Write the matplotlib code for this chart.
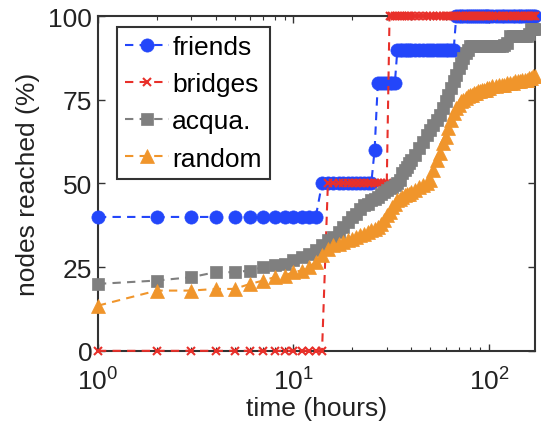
import matplotlib
matplotlib.use("Agg")
import matplotlib.pyplot as plt
from matplotlib.ticker import FixedLocator, NullFormatter, LogLocator

plt.rcParams['font.family'] = ['Liberation Sans', 'DejaVu Sans']

# time axis (hours)
hours = (list(range(1, 41)) + list(range(42, 101, 2)) + list(range(104, 173, 4)))

friends = ([40] * 13 + [50] * 12 + [60] + [80] * 7 + [90] * 7 +
           [90] * 13 + [100] * 17 + [100] * 18)
bridges = [0] * 14 + [50] * 16 + [100] * 10 + [100] * 48

acqua = [20, 21, 22, 23.5, 23.5, 24, 25, 25.5, 26, 27, 28, 29, 30, 31.5, 33, 34, 35.5, 37, 38.5, 40,
         41, 42.5, 43.5, 44, 45, 45.5, 46, 47, 47.5, 48, 48.5, 49, 49.5, 50, 51, 53, 54, 55, 56, 57,
         58.5, 60.5, 62.5, 64.5, 66, 67.5, 69, 70.5, 72.5, 74.5, 76.5, 78.5, 80.5, 82.5, 84.5, 86, 87.5, 89, 90, 91,
         91, 91, 91, 91, 91, 91, 91, 91, 91, 91,
         91, 91, 91, 91, 91.5, 92, 94, 94, 94, 94, 94, 94, 94, 94, 94.5, 96, 96, 96]

random_ = [13.5, 18, 18, 18.5, 18.5, 20, 21, 22, 22.5, 23.5, 24, 25, 26.5, 28.5, 30.5, 31.5, 32, 32.5, 33, 33.5,
           34, 34.5, 35, 35.5, 36, 36.5, 37, 38, 39, 40.5, 41.5, 43, 44, 45, 45.5, 46, 46.5, 47, 47, 47.5,
           48, 49, 49.5, 50, 51, 54, 57, 59, 62, 64, 66.5, 69, 71, 72.5, 73.5, 74.5, 75, 75.5, 76, 76.5,
           76.5, 77, 77, 77.5, 77.5, 78, 78, 78, 78.5, 78.5,
           79, 79, 79.5, 79.5, 79.5, 80, 80, 80, 80.5, 80.5, 80.5, 81, 81, 81, 81.5, 81.5, 82, 82]

labels = ['friends', 'bridges', 'acqua.', 'random']
colors = ['#2346fa', '#e8302a', '#7f7f7f', '#f0952b']
markers = ['o', 'x', 's', '^']
msizes = [9.5, 5.5, 8.5, 10]

fig = plt.figure(figsize=(5.41, 4.27), dpi=100)
ax = fig.add_axes([0.181, 0.176, 0.808, 0.784])

series = [friends, bridges, acqua, random_]
for vals, lab, c, m, ms in zip(series, labels, colors, markers, msizes):
    ax.plot(hours, vals, linestyle=(0, (4, 3)), linewidth=1.5, color=c, marker=m,
            markersize=ms, markeredgewidth=1.5 if m == 'x' else 0.5, markeredgecolor=c,
            markerfacecolor=c, label=lab, clip_on=False, zorder=3)

ax.set_xscale('log')
ax.set_xlim(1, 172)
ax.set_ylim(0, 100)
ax.set_yticks([0, 25, 50, 75, 100])
ax.xaxis.set_major_locator(FixedLocator([1, 10, 100]))
ax.xaxis.set_minor_locator(LogLocator(base=10, subs=range(2, 10)))
ax.xaxis.set_minor_formatter(NullFormatter())

for s in ax.spines.values():
    s.set_linewidth(1.5)
    s.set_color('#333333')
ax.tick_params(which='both', direction='in', top=True, right=True, colors='#333333',
               labelcolor='#222222', labelsize=19)
ax.tick_params(which='major', length=5, width=1)
ax.tick_params(which='minor', length=3, width=0.8)
ax.tick_params(axis='x', pad=12)
ax.tick_params(axis='y', pad=4)

ax.set_xlabel('time (hours)', fontsize=19, color='#222222', labelpad=1)
ax.set_ylabel('nodes reached (%)', fontsize=19, color='#222222', labelpad=6)

leg = ax.legend(loc='upper left', bbox_to_anchor=(0.043, 0.967), fontsize=19, numpoints=1,
                handlelength=1.7, handletextpad=0.1, labelspacing=0.5, borderpad=0.3,
                borderaxespad=0, fancybox=False, framealpha=1)
leg.get_frame().set_edgecolor('#333333')
leg.get_frame().set_linewidth(1.5)
leg.set_zorder(5)

fig.savefig('out.png', dpi=100)
